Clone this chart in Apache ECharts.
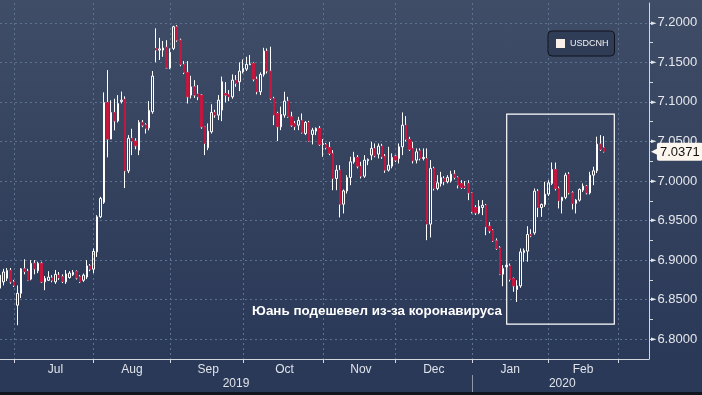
<!DOCTYPE html>
<html><head><meta charset="utf-8">
<script src="https://cdn.jsdelivr.net/npm/echarts@6/dist/echarts.min.js"></script>
<style>
html,body{margin:0;padding:0;}
#c{width:702px;height:395px;background:linear-gradient(to bottom,#3f4d67 0%,#34425e 45%,#2a3958 90%,#2a3958 100%);}
</style></head><body><div id="c"></div>
<script>
// ---- DATA: [open, close, low, high] per trading day ----
const ohlcJun = [
 [6.8645,6.8810,6.8620,6.8900],[6.8725,6.8850,6.8680,6.8890],[6.8770,6.8870,6.8735,6.8900],[6.8870,6.8725,6.8700,6.8900]
];
const ohlcJul = [
 [6.8725,6.8680,6.8660,6.8750],[6.8430,6.8580,6.8177,6.8680],[6.8580,6.8890,6.8520,6.8900],[6.8890,6.8855,6.8820,6.9010],
 [6.8860,6.8745,6.8735,6.8890],[6.8760,6.8960,6.8745,6.9000],[6.8960,6.8890,6.8820,6.9000],[6.8865,6.8960,6.8835,6.8980],
 [6.8960,6.8725,6.8710,6.8980],[6.8725,6.8770,6.8620,6.8800],[6.8745,6.8785,6.8735,6.8860],[6.8775,6.8745,6.8720,6.8810],
 [6.8725,6.8820,6.8700,6.8875],[6.8810,6.8775,6.8750,6.8850],[6.8790,6.8730,6.8710,6.8820],[6.8725,6.8825,6.8700,6.8875],
 [6.8780,6.8835,6.8765,6.8860],[6.8815,6.8845,6.8800,6.8875],[6.8855,6.8775,6.8755,6.8870],[6.8790,6.8725,6.8710,6.8810],
 [6.8745,6.8810,6.8725,6.8830],[6.8787,6.8927,6.8760,6.9000],[6.8927,6.8885,6.8860,6.8950]
];
const ohlcAug = [
 [6.8885,6.9110,6.8835,6.9147],[6.9104,6.9547,6.9040,6.9568],[6.9547,6.9780,6.9530,6.9800],[6.9730,7.0993,6.9710,7.1120],
 [7.0993,7.0530,7.0300,7.1402],[7.0530,7.0867,7.0530,7.1020],[7.0867,7.0760,7.0640,7.1040],[7.0760,7.0980,7.0740,7.1086],
 [7.1005,7.1022,7.0980,7.1130],[7.1035,7.0128,6.9910,7.1070],[7.0128,7.0540,7.0100,7.0580],[7.0540,7.0504,7.0327,7.0660],
 [7.0504,7.0445,7.0400,7.0540],[7.0390,7.0741,7.0327,7.0769],[7.0741,7.0706,7.0680,7.0770],[7.0710,7.0665,7.0600,7.0730],
 [7.0672,7.0892,7.0640,7.1010],[7.0875,7.1326,7.0850,7.1390],[7.1676,7.1655,7.1500,7.1930],[7.1655,7.1670,7.1530,7.1810],
 [7.1655,7.1680,7.1570,7.1770],[7.1690,7.1430,7.1423,7.1780]
];
const ohlcSep = [
 [7.1430,7.1626,7.1414,7.1676],[7.1676,7.1950,7.1655,7.1962],[7.1950,7.1780,7.1760,7.1970],[7.1780,7.1474,7.1450,7.1800],
 [7.1474,7.1373,7.1350,7.1516],[7.1373,7.1064,7.0980,7.1516],[7.1086,7.1190,7.1044,7.1330],[7.1190,7.1086,7.1050,7.1275],
 [7.1100,7.1064,7.1022,7.1212],[7.1086,7.0685,7.0660,7.1100],[7.0685,7.0475,7.0327,7.0685],[7.0420,7.0630,7.0390,7.0728],
 [7.0622,7.0867,7.0600,7.0970],[7.0867,7.0833,7.0800,7.0900],[7.0833,7.1022,7.0770,7.1086],[7.0896,7.1254,7.0757,7.1320],
 [7.1107,7.1086,7.0993,7.1250],[7.1094,7.1064,7.1010,7.1149],[7.1064,7.1275,7.1040,7.1347],[7.1275,7.1234,7.1191,7.1339],
 [7.1254,7.1389,7.1136,7.1500]
];
const ohlcOct = [
 [7.1380,7.1424,7.1360,7.1537],[7.1414,7.1474,7.1390,7.1570],[7.1470,7.1480,7.1465,7.1592],[7.1486,7.1288,7.1260,7.1500],
 [7.1288,7.1128,7.1095,7.1320],[7.1128,7.1347,7.1086,7.1373],[7.1347,7.1642,7.1320,7.1684],[7.1642,7.1389,7.1360,7.1676],
 [7.1389,7.1044,7.1022,7.1697],[7.1044,7.0833,7.0706,7.1064],[7.0854,7.0685,7.0504,7.0875],[7.0685,7.0841,7.0643,7.0940],
 [7.0833,7.1010,7.0800,7.1128],[7.1010,7.0812,7.0800,7.1064],[7.0812,7.0706,7.0685,7.0875],[7.0728,7.0685,7.0643,7.0757],
 [7.0706,7.0766,7.0643,7.0811],[7.0766,7.0614,7.0600,7.0854],[7.0600,7.0740,7.0580,7.0757],[7.0740,7.0504,7.0495,7.0760],
 [7.0589,7.0643,7.0462,7.0672],[7.0630,7.0665,7.0580,7.0677],[7.0665,7.0462,7.0445,7.0694]
];
const ohlcNov = [
 [7.0462,7.0470,7.0306,7.0530],[7.0462,7.0420,7.0400,7.0480],[7.0424,7.0349,7.0327,7.0495],[7.0349,7.0032,6.9884,7.0390],
 [7.0032,7.0137,6.9884,7.0200],[7.0137,6.9707,6.9540,7.0200],[6.9707,6.9875,6.9590,6.9893],[6.9875,7.0045,6.9842,7.0074],
 [7.0045,7.0242,6.9947,7.0306],[7.0242,7.0298,7.0220,7.0369],[7.0298,7.0188,7.0160,7.0327],[7.0188,7.0061,7.0032,7.0243],
 [7.0061,7.0264,7.0040,7.0327],[7.0256,7.0273,7.0200,7.0285],[7.0327,7.0412,7.0264,7.0495],[7.0412,7.0318,7.0300,7.0475],
 [7.0340,7.0441,7.0285,7.0475],[7.0441,7.0306,7.0280,7.0470],[7.0314,7.0137,7.0103,7.0340],[7.0137,7.0200,7.0120,7.0432],
 [7.0188,7.0298,7.0160,7.0349]
];
const ohlcDec = [
 [7.0314,7.0264,7.0240,7.0330],[7.0285,7.0432,7.0222,7.0475],[7.0432,7.0706,7.0327,7.0867],[7.0706,7.0525,7.0500,7.0820],
 [7.0525,7.0399,7.0380,7.0558],[7.0412,7.0255,7.0222,7.0495],[7.0264,7.0369,7.0222,7.0412],[7.0382,7.0285,7.0260,7.0412],
 [7.0285,7.0298,7.0260,7.0412],[7.0285,6.9455,6.9252,7.0412],[6.9455,7.0159,6.9286,7.0264],[7.0159,6.9906,6.9880,7.0180],
 [6.9906,6.9977,6.9884,7.0074],[6.9968,7.0045,6.9930,7.0116],[7.0032,6.9990,6.9947,7.0060],[6.9990,7.0045,6.9970,7.0074],
 [7.0002,7.0087,6.9980,7.0129],[7.0087,7.0045,7.0020,7.0137],[7.0045,6.9947,6.9906,7.0060],[6.9969,6.9918,6.9900,7.0010],
 [6.9935,6.9918,6.9900,7.0000],[6.9969,6.9850,6.9758,7.0010]
];
const ohlcJan = [
 [6.9850,6.9610,6.9590,6.9860],[6.9665,6.9597,6.9570,6.9694],[6.9597,6.9680,6.9580,6.9758],[6.9665,6.9694,6.9568,6.9758],
 [6.9694,6.9420,6.9315,6.9710],[6.9430,6.9370,6.9340,6.9480],[6.9378,6.9243,6.9230,6.9390],[6.9243,6.9147,6.9130,6.9274],
 [6.9155,6.8822,6.8810,6.9176],[6.8822,6.8894,6.8670,6.8936],[6.8915,6.8935,6.8873,6.8960],[6.8927,6.8755,6.8730,6.8957],
 [6.8767,6.8674,6.8600,6.8780],[6.8628,6.8674,6.8470,6.8746],[6.8674,6.9104,6.8650,6.9147],[6.9095,6.9120,6.8980,6.9147],
 [6.9113,6.9324,6.8980,6.9429],[6.9324,6.9306,6.9290,6.9390],[6.9344,6.9872,6.9320,6.9906],[6.9872,6.9665,6.9543,6.9897],
 [6.9665,6.9703,6.9547,6.9716],[6.9703,6.9834,6.9673,6.9990]
];
const ohlcFeb = [
 [6.9834,6.9977,6.9810,7.0010],[6.9969,7.0146,6.9950,7.0234],[7.0146,6.9906,6.9880,7.0234],[6.9906,6.9750,6.9653,6.9930],
 [6.9750,6.9792,6.9590,6.9800],[6.9792,7.0074,6.9770,7.0103],[7.0087,6.9850,6.9830,7.0112],[6.9850,6.9716,6.9640,6.9870],
 [6.9716,6.9758,6.9590,6.9770],[6.9758,6.9893,6.9740,6.9906],[6.9884,6.9935,6.9860,6.9970],[6.9935,6.9850,6.9830,6.9950],
 [6.9850,7.0074,6.9830,7.0116],[7.0074,7.0129,6.9947,7.0180],[7.0129,7.0466,7.0100,7.0560],[7.0466,7.0400,7.0380,7.0580],
 [7.0420,7.0371,7.0360,7.0567]
];
const seriesName = 'USDCNH';
const monthNames = ['Jan','Feb','Mar','Apr','May','Jun','Jul','Aug','Sep','Oct','Nov','Dec'];
const labelledMonths = ['2019-07','2019-08','2019-09','2019-10','2019-11','2019-12','2020-01','2020-02'];
const yearLabels = ['2019','2020'];
const calendarStart = '2019-06-25';
const calendarEnd = '2020-03-13';
const holidays = ['2020-01-01'];
const yMin = 6.775, yMax = 7.225, yStep = 0.025;
const annotationText = 'Юань подешевел из-за коронавируса';
const boxStart = '2020-01-16', boxEnd = '2020-02-28', boxTop = 7.0845, boxBottom = 6.819;

// ---- categories (trading weekdays) ----
const dates = [];
for (let d = new Date(calendarStart + 'T00:00:00Z'); d <= new Date(calendarEnd + 'T00:00:00Z'); d.setUTCDate(d.getUTCDate() + 1)) {
  const wd = d.getUTCDay();
  const s = d.toISOString().slice(0, 10);
  if (wd === 0 || wd === 6 || holidays.includes(s)) continue;
  dates.push(s);
}
const ohlc = [].concat(ohlcJun, ohlcJul, ohlcAug, ohlcSep, ohlcOct, ohlcNov, ohlcDec, ohlcJan, ohlcFeb);
const candleData = dates.map((d, i) => i < ohlc.length ? ohlc[i] : '-');
const downBodies = dates.map((d, i) => (i < ohlc.length && ohlc[i][1] < ohlc[i][0]) ? [ohlc[i][0], ohlc[i][1], ohlc[i][1], ohlc[i][0]] : '-');
const lastClose = ohlc[ohlc.length - 1][1];

const monthFirst = new Set();
const monthRange = {};
const yearRange = {};
dates.forEach((d, i) => {
  const m = d.slice(0, 7), y = d.slice(0, 4);
  if (!monthRange[m]) { monthRange[m] = [i, i]; if (i > 0) monthFirst.add(i); } else monthRange[m][1] = i;
  if (!yearRange[y]) yearRange[y] = [i, i]; else yearRange[y][1] = i;
});
const monthLabelIdx = new Set(labelledMonths.map(m => Math.ceil((monthRange[m][0] + monthRange[m][1] + 1) / 2)));
const yearLabelIdx = new Set(yearLabels.map(y => Math.floor((yearRange[y][0] + yearRange[y][1] + 1) / 2)));
const yearBoundary = new Set(yearLabels.slice(1).map(y => yearRange[y][0]));

const FONT = 'Liberation Sans, Arial, sans-serif';
const gridColor = '#5b7391';
const axisColor = '#d3d7de';
const upColor = '#ffffff';
const downColor = '#c4173f';

const chart = echarts.init(document.getElementById('c'), null, {renderer: 'canvas'});
chart.setOption({
  animation: false,
  backgroundColor: 'transparent',
  textStyle: {fontFamily: FONT},
  grid: {left: -1, right: 53, top: 3, bottom: 36, containLabel: false},
  title: {
    text: annotationText, right: 200, top: 305, padding: 0,
    textStyle: {color: '#ffffff', fontSize: 13.4, fontWeight: 'bold', fontFamily: FONT}
  },
  legend: {
    left: 548, top: 31, padding: [8, 6, 8, 8], itemWidth: 9, itemHeight: 9, itemGap: 0,
    backgroundColor: 'rgba(40,52,76,0.6)', borderColor: '#0e131d', borderWidth: 1, borderRadius: 4,
    textStyle: {color: '#f2f2f2', fontSize: 9, fontFamily: FONT},
    data: [{name: seriesName, icon: 'rect', itemStyle: {color: '#fbefea', borderWidth: 0}}],
    selectedMode: false
  },
  xAxis: [{
    type: 'category', data: dates, boundaryGap: false,
    axisLine: {show: true, lineStyle: {color: axisColor, width: 1}},
    axisTick: {show: true, length: 4, interval: (i) => monthFirst.has(i), lineStyle: {color: axisColor}},
    axisLabel: {
      interval: (i) => monthLabelIdx.has(i), margin: 5, color: '#dfe3ea', fontSize: 12, fontFamily: FONT,
      formatter: (v) => monthNames[parseInt(v.slice(5, 7), 10) - 1]
    },
    splitLine: {show: true, interval: (i) => monthFirst.has(i), lineStyle: {color: gridColor, type: [2, 3], width: 1}}
  }, {
    type: 'category', data: dates, boundaryGap: false, position: 'bottom', offset: 16,
    axisLine: {show: false},
    axisTick: {show: true, length: 18, interval: (i) => yearBoundary.has(i), lineStyle: {color: '#8d97a8'}},
    axisLabel: {
      interval: (i) => yearLabelIdx.has(i), margin: 3, color: '#dfe3ea', fontSize: 12, fontFamily: FONT,
      formatter: (v) => v.slice(0, 4)
    },
    splitLine: {show: false}
  }],
  yAxis: {
    type: 'value', position: 'right', min: yMin, max: yMax, interval: yStep, scale: true,
    axisLine: {show: true, lineStyle: {color: axisColor}},
    axisTick: {show: true, length: 4, lineStyle: {color: axisColor}},
    axisLabel: {
      margin: 2, color: '#e4e7ec',
      showMinLabel: false, showMaxLabel: false,
      formatter: (v) => {
        const k = v / (yStep * 2);
        return Math.abs(k - Math.round(k)) < 1e-6 ? '{a|►}{b|' + v.toFixed(4) + '}' : '';
      },
      rich: {
        a: {fontSize: 7, color: '#e4e7ec', fontFamily: 'DejaVu Sans', padding: [0, 1, 0, 0]},
        b: {fontSize: 13, color: '#e4e7ec', fontFamily: FONT}
      }
    },
    splitLine: {show: true, lineStyle: {color: ['rgba(0,0,0,0)', gridColor], type: [2, 3], width: 1}}
  },
  series: [{
    name: seriesName, type: 'candlestick', xAxisIndex: 0, yAxisIndex: 0, clip: false,
    data: candleData, barWidth: 2,
    itemStyle: {color: 'rgba(0,0,0,0)', color0: 'rgba(0,0,0,0)', borderColor: upColor, borderColor0: upColor, borderColorDoji: upColor, borderWidth: 1},
    markArea: {
      silent: true, label: {show: false},
      itemStyle: {color: 'rgba(0,0,0,0)', borderColor: '#ffffff', borderWidth: 1.2},
      data: [[{xAxis: boxStart, yAxis: boxTop}, {xAxis: boxEnd, yAxis: boxBottom}]]
    },
    markLine: {
      silent: true, symbol: ['none', 'none'], z: 10, precision: 4,
      lineStyle: {color: 'rgba(0,0,0,0)', width: 0.5, type: 'solid'},
      label: {
        show: true, position: 'end', distance: 2,
        formatter: () => '{p|◀}{v|' + lastClose.toFixed(4) + '}',
        rich: {
          p: {color: '#fdf6ee', fontSize: 9, fontFamily: 'DejaVu Sans', padding: [0, -1, 0, 0]},
          v: {backgroundColor: '#fdf6ee', color: '#111111', fontSize: 13, fontFamily: FONT, padding: [3, 3, 2, 3], borderRadius: 2}
        }
      },
      data: [{yAxis: lastClose}]
    }
  }, {
    name: 'down', type: 'candlestick', xAxisIndex: 0, yAxisIndex: 0,
    data: downBodies, barWidth: 2,
    itemStyle: {color: downColor, color0: downColor, borderColor: downColor, borderColor0: downColor, borderWidth: 1}
  }],
  graphic: [{
    type: 'rect', silent: true, z: 100,
    shape: {x: 0, y: 392, width: 702, height: 3},
    style: {fill: '#10151f'}
  }]
});
</script></body></html>
